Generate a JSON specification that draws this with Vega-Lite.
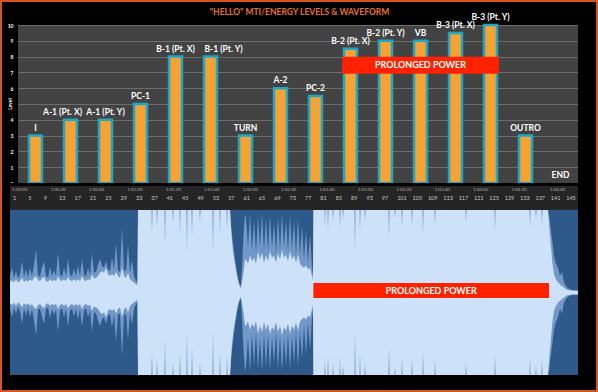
{
  "$schema": "https://vega.github.io/schema/vega-lite/v6.json",
  "background": "#D9541E",
  "padding": 2,
  "columns": 3,
  "spacing": 0,
  "align": "each",
  "bounds": "flush",
  "config": {
    "view": {"stroke": null, "fill": "#000000"},
    "concat": {"spacing": 0},
    "font": "Lato"
  },
  "datasets": {
    "levels": [
      {"section": "I", "level": 3},
      {"section": "A-1 (Pt. X)", "level": 4},
      {"section": "A-1 (Pt. Y)", "level": 4},
      {"section": "PC-1", "level": 5},
      {"section": "B-1 (Pt. X)", "level": 8},
      {"section": "B-1 (Pt. Y)", "level": 8},
      {"section": "TURN", "level": 3},
      {"section": "A-2", "level": 6},
      {"section": "PC-2", "level": 5.5},
      {"section": "B-2 (Pt. X)", "level": 8.5},
      {"section": "B-2 (Pt. Y)", "level": 9},
      {"section": "VB", "level": 9},
      {"section": "B-3 (Pt. X)", "level": 9.5},
      {"section": "B-3 (Pt. Y)", "level": 10},
      {"section": "OUTRO", "level": 3},
      {"section": "END", "level": 0}
    ],
    "notes": [
      {"from": "B-2 (Pt. X)", "to": "B-3 (Pt. Y)", "mid": "VB", "label": "PROLONGED POWER", "start": 156.9, "end": 279.6, "center": 218.25}
    ],
    "ruler": [
      {"t": 0, "label": "1:00:00", "row": "time"},
      {"t": 20, "label": "1:00:20", "row": "time"},
      {"t": 40, "label": "1:00:40", "row": "time"},
      {"t": 60, "label": "1:01:00", "row": "time"},
      {"t": 80, "label": "1:01:20", "row": "time"},
      {"t": 100, "label": "1:01:40", "row": "time"},
      {"t": 120, "label": "1:02:00", "row": "time"},
      {"t": 140, "label": "1:02:20", "row": "time"},
      {"t": 160, "label": "1:02:40", "row": "time"},
      {"t": 180, "label": "1:03:00", "row": "time"},
      {"t": 200, "label": "1:03:20", "row": "time"},
      {"t": 220, "label": "1:03:40", "row": "time"},
      {"t": 240, "label": "1:04:00", "row": "time"},
      {"t": 260, "label": "1:04:20", "row": "time"},
      {"t": 280, "label": "1:04:40", "row": "time"},
      {"t": 0, "label": "1", "row": "bar"},
      {"t": 8, "label": "5", "row": "bar"},
      {"t": 16, "label": "9", "row": "bar"},
      {"t": 24, "label": "13", "row": "bar"},
      {"t": 32, "label": "17", "row": "bar"},
      {"t": 40, "label": "21", "row": "bar"},
      {"t": 48, "label": "25", "row": "bar"},
      {"t": 56, "label": "29", "row": "bar"},
      {"t": 64, "label": "33", "row": "bar"},
      {"t": 72, "label": "37", "row": "bar"},
      {"t": 80, "label": "41", "row": "bar"},
      {"t": 88, "label": "45", "row": "bar"},
      {"t": 96, "label": "49", "row": "bar"},
      {"t": 104, "label": "53", "row": "bar"},
      {"t": 112, "label": "57", "row": "bar"},
      {"t": 120, "label": "61", "row": "bar"},
      {"t": 128, "label": "65", "row": "bar"},
      {"t": 136, "label": "69", "row": "bar"},
      {"t": 144, "label": "73", "row": "bar"},
      {"t": 152, "label": "77", "row": "bar"},
      {"t": 160, "label": "81", "row": "bar"},
      {"t": 168, "label": "85", "row": "bar"},
      {"t": 176, "label": "89", "row": "bar"},
      {"t": 184, "label": "93", "row": "bar"},
      {"t": 192, "label": "97", "row": "bar"},
      {"t": 200, "label": "101", "row": "bar"},
      {"t": 208, "label": "105", "row": "bar"},
      {"t": 216, "label": "109", "row": "bar"},
      {"t": 224, "label": "113", "row": "bar"},
      {"t": 232, "label": "117", "row": "bar"},
      {"t": 240, "label": "121", "row": "bar"},
      {"t": 248, "label": "125", "row": "bar"},
      {"t": 256, "label": "129", "row": "bar"},
      {"t": 264, "label": "133", "row": "bar"},
      {"t": 272, "label": "137", "row": "bar"},
      {"t": 280, "label": "141", "row": "bar"},
      {"t": 288, "label": "145", "row": "bar"}
    ],
    "wave": [
      {"t": -1.04, "p": 0.2, "r": 0.13},
      {"t": 0, "p": 0.3, "r": 0.15},
      {"t": 1.04, "p": 0.18, "r": 0.12},
      {"t": 2.08, "p": 0.26, "r": 0.16},
      {"t": 3.12, "p": 0.17, "r": 0.12},
      {"t": 4.16, "p": 0.22, "r": 0.14},
      {"t": 5.21, "p": 0.38, "r": 0.18},
      {"t": 6.25, "p": 0.19, "r": 0.13},
      {"t": 7.29, "p": 0.28, "r": 0.15},
      {"t": 8.33, "p": 0.18, "r": 0.13},
      {"t": 9.37, "p": 0.3, "r": 0.16},
      {"t": 10.41, "p": 0.2, "r": 0.14},
      {"t": 11.45, "p": 0.33, "r": 0.18},
      {"t": 12.49, "p": 0.52, "r": 0.2},
      {"t": 13.54, "p": 0.21, "r": 0.15},
      {"t": 14.58, "p": 0.19, "r": 0.14},
      {"t": 15.62, "p": 0.3, "r": 0.17},
      {"t": 16.66, "p": 0.38, "r": 0.19},
      {"t": 17.7, "p": 0.2, "r": 0.14},
      {"t": 18.74, "p": 0.18, "r": 0.13},
      {"t": 19.78, "p": 0.31, "r": 0.16},
      {"t": 20.82, "p": 0.2, "r": 0.14},
      {"t": 21.87, "p": 0.27, "r": 0.15},
      {"t": 22.91, "p": 0.2, "r": 0.14},
      {"t": 23.95, "p": 0.48, "r": 0.2},
      {"t": 24.99, "p": 0.22, "r": 0.15},
      {"t": 26.03, "p": 0.19, "r": 0.14},
      {"t": 27.07, "p": 0.3, "r": 0.16},
      {"t": 28.11, "p": 0.2, "r": 0.14},
      {"t": 29.15, "p": 0.41, "r": 0.19},
      {"t": 30.19, "p": 0.22, "r": 0.15},
      {"t": 31.24, "p": 0.19, "r": 0.14},
      {"t": 32.28, "p": 0.29, "r": 0.16},
      {"t": 33.32, "p": 0.2, "r": 0.14},
      {"t": 34.36, "p": 0.32, "r": 0.16},
      {"t": 35.4, "p": 0.2, "r": 0.14},
      {"t": 36.44, "p": 0.41, "r": 0.2},
      {"t": 37.48, "p": 0.22, "r": 0.15},
      {"t": 38.52, "p": 0.19, "r": 0.14},
      {"t": 39.57, "p": 0.3, "r": 0.16},
      {"t": 40.61, "p": 0.21, "r": 0.15},
      {"t": 41.65, "p": 0.48, "r": 0.22},
      {"t": 42.69, "p": 0.24, "r": 0.17},
      {"t": 43.73, "p": 0.25, "r": 0.18},
      {"t": 44.77, "p": 0.34, "r": 0.2},
      {"t": 45.81, "p": 0.41, "r": 0.24},
      {"t": 46.85, "p": 0.32, "r": 0.26},
      {"t": 47.9, "p": 0.3, "r": 0.24},
      {"t": 48.94, "p": 0.38, "r": 0.3},
      {"t": 49.98, "p": 0.28, "r": 0.22},
      {"t": 51.02, "p": 0.26, "r": 0.2},
      {"t": 52.06, "p": 0.42, "r": 0.22},
      {"t": 53.1, "p": 0.27, "r": 0.2},
      {"t": 54.14, "p": 0.6, "r": 0.25},
      {"t": 55.18, "p": 0.27, "r": 0.2},
      {"t": 56.22, "p": 0.25, "r": 0.18},
      {"t": 57.27, "p": 0.78, "r": 0.3},
      {"t": 58.31, "p": 0.28, "r": 0.2},
      {"t": 59.35, "p": 0.26, "r": 0.18},
      {"t": 60.39, "p": 0.58, "r": 0.24},
      {"t": 61.43, "p": 0.24, "r": 0.16},
      {"t": 62.47, "p": 0.39, "r": 0.14},
      {"t": 63.51, "p": 0.2, "r": 0.12},
      {"t": 64.55, "p": 0.14, "r": 0.1},
      {"t": 65.3, "p": 0.12, "r": 0.09},
      {"t": 65.6, "p": 1, "r": 1},
      {"t": 72.58, "p": 1, "r": 1}, {"t": 72.88, "p": 1, "r": 0.72}, {"t": 73.18, "p": 1, "r": 1},
      {"t": 75.19, "p": 1, "r": 1}, {"t": 75.49, "p": 1, "r": 0.8}, {"t": 75.79, "p": 1, "r": 1},
      {"t": 79.35, "p": 1, "r": 1}, {"t": 79.65, "p": 1, "r": 0.56}, {"t": 79.95, "p": 1, "r": 1},
      {"t": 83.52, "p": 1, "r": 1}, {"t": 83.82, "p": 1, "r": 0.85}, {"t": 84.12, "p": 1, "r": 1},
      {"t": 87.16, "p": 1, "r": 1}, {"t": 87.46, "p": 1, "r": 0.72}, {"t": 87.76, "p": 1, "r": 1},
      {"t": 90.8, "p": 1, "r": 1}, {"t": 91.1, "p": 1, "r": 0.48}, {"t": 91.4, "p": 1, "r": 1},
      {"t": 93.41, "p": 1, "r": 1}, {"t": 93.71, "p": 1, "r": 0.66}, {"t": 94.01, "p": 1, "r": 1},
      {"t": 97.57, "p": 1, "r": 1}, {"t": 97.87, "p": 1, "r": 0.85}, {"t": 98.17, "p": 1, "r": 1},
      {"t": 104.34, "p": 1, "r": 1}, {"t": 104.64, "p": 1, "r": 0.46}, {"t": 104.94, "p": 1, "r": 1},
      {"t": 107.98, "p": 1, "r": 1}, {"t": 108.28, "p": 1, "r": 0.72}, {"t": 108.58, "p": 1, "r": 1},
      {"t": 111.63, "p": 1, "r": 1}, {"t": 111.93, "p": 1, "r": 0.76}, {"t": 112.23, "p": 1, "r": 1},
      {"t": 113.49, "p": 1, "r": 1},
      {"t": 114.27, "p": 0.75, "r": 0.7},
      {"t": 115.05, "p": 0.6, "r": 0.5},
      {"t": 116.09, "p": 0.4, "r": 0.35},
      {"t": 117.13, "p": 0.24, "r": 0.2},
      {"t": 118.18, "p": 0.12, "r": 0.1},
      {"t": 119.06, "p": 0.07, "r": 0.05},
      {"t": 119.74, "p": 0.3, "r": 0.12},
      {"t": 120.52, "p": 0.7, "r": 0.25},
      {"t": 121.3, "p": 0.95, "r": 0.4},
      {"t": 121.82, "p": 0.9, "r": 0.4},
      {"t": 122.86, "p": 0.55, "r": 0.35},
      {"t": 123.9, "p": 0.95, "r": 0.45},
      {"t": 124.94, "p": 0.5, "r": 0.38},
      {"t": 125.98, "p": 0.88, "r": 0.42},
      {"t": 127.03, "p": 0.48, "r": 0.35},
      {"t": 128.07, "p": 0.93, "r": 0.5},
      {"t": 129.11, "p": 0.55, "r": 0.4},
      {"t": 130.15, "p": 0.96, "r": 0.48},
      {"t": 131.19, "p": 0.5, "r": 0.36},
      {"t": 132.23, "p": 0.9, "r": 0.45},
      {"t": 133.27, "p": 0.5, "r": 0.38},
      {"t": 134.31, "p": 0.94, "r": 0.5},
      {"t": 135.36, "p": 0.55, "r": 0.42},
      {"t": 136.4, "p": 0.85, "r": 0.45},
      {"t": 137.44, "p": 0.48, "r": 0.36},
      {"t": 138.48, "p": 0.92, "r": 0.48},
      {"t": 139.52, "p": 0.52, "r": 0.4},
      {"t": 140.56, "p": 0.95, "r": 0.52},
      {"t": 141.6, "p": 0.55, "r": 0.42},
      {"t": 142.64, "p": 0.88, "r": 0.46},
      {"t": 143.69, "p": 0.5, "r": 0.38},
      {"t": 144.73, "p": 0.93, "r": 0.5},
      {"t": 145.77, "p": 0.52, "r": 0.4},
      {"t": 146.81, "p": 0.86, "r": 0.45},
      {"t": 147.85, "p": 0.46, "r": 0.36},
      {"t": 148.89, "p": 0.9, "r": 0.46},
      {"t": 149.93, "p": 0.45, "r": 0.35},
      {"t": 150.97, "p": 0.8, "r": 0.32},
      {"t": 152.02, "p": 0.4, "r": 0.3},
      {"t": 153.06, "p": 0.75, "r": 0.33},
      {"t": 154.1, "p": 0.36, "r": 0.28},
      {"t": 155.14, "p": 0.7, "r": 0.3},
      {"t": 156.18, "p": 0.3, "r": 0.2},
      {"t": 156.7, "p": 0.22, "r": 0.15},
      {"t": 156.9, "p": 1, "r": 1},
      {"t": 162.65, "p": 1, "r": 1}, {"t": 162.95, "p": 1, "r": 0.82}, {"t": 163.25, "p": 1, "r": 1},
      {"t": 164.21, "p": 1, "r": 1}, {"t": 164.51, "p": 1, "r": 0.75}, {"t": 164.81, "p": 1, "r": 1},
      {"t": 166.81, "p": 1, "r": 1}, {"t": 167.11, "p": 1, "r": 0.85}, {"t": 167.41, "p": 1, "r": 1},
      {"t": 170.46, "p": 1, "r": 1}, {"t": 170.76, "p": 1, "r": 0.78}, {"t": 171.06, "p": 1, "r": 1},
      {"t": 172.02, "p": 1, "r": 1}, {"t": 172.32, "p": 1, "r": 0.88}, {"t": 172.62, "p": 1, "r": 1},
      {"t": 178.27, "p": 1, "r": 1}, {"t": 178.57, "p": 1, "r": 0.49}, {"t": 178.87, "p": 1, "r": 1},
      {"t": 180.87, "p": 1, "r": 1}, {"t": 181.17, "p": 1, "r": 0.74}, {"t": 181.47, "p": 1, "r": 1},
      {"t": 183.47, "p": 1, "r": 1}, {"t": 183.77, "p": 1, "r": 0.85}, {"t": 184.07, "p": 1, "r": 1},
      {"t": 195.97, "p": 1, "r": 1}, {"t": 196.27, "p": 1, "r": 0.65}, {"t": 196.57, "p": 1, "r": 1},
      {"t": 199.09, "p": 1, "r": 1}, {"t": 199.39, "p": 1, "r": 0.9}, {"t": 199.69, "p": 1, "r": 1},
      {"t": 202.73, "p": 1, "r": 1}, {"t": 203.03, "p": 1, "r": 0.8}, {"t": 203.33, "p": 1, "r": 1},
      {"t": 207.94, "p": 1, "r": 1}, {"t": 208.24, "p": 1, "r": 0.8}, {"t": 208.54, "p": 1, "r": 1},
      {"t": 213.67, "p": 1, "r": 1}, {"t": 213.97, "p": 1, "r": 0.71}, {"t": 214.27, "p": 1, "r": 1},
      {"t": 219.91, "p": 1, "r": 1}, {"t": 220.21, "p": 1, "r": 0.82}, {"t": 220.51, "p": 1, "r": 1},
      {"t": 236.05, "p": 1, "r": 1}, {"t": 236.35, "p": 1, "r": 0.85}, {"t": 236.65, "p": 1, "r": 1},
      {"t": 251.15, "p": 1, "r": 1}, {"t": 251.45, "p": 1, "r": 0.75}, {"t": 251.75, "p": 1, "r": 1},
      {"t": 269.37, "p": 1, "r": 1}, {"t": 269.67, "p": 1, "r": 0.79}, {"t": 269.97, "p": 1, "r": 1},
      {"t": 272.49, "p": 1, "r": 1}, {"t": 272.79, "p": 1, "r": 0.88}, {"t": 273.09, "p": 1, "r": 1},
      {"t": 275.62, "p": 1, "r": 1}, {"t": 275.92, "p": 1, "r": 0.82}, {"t": 276.22, "p": 1, "r": 1},
      {"t": 279.04, "p": 1, "r": 1},
      {"t": 279.82, "p": 0.9, "r": 0.75},
      {"t": 280.6, "p": 0.75, "r": 0.55},
      {"t": 281.38, "p": 0.6, "r": 0.35},
      {"t": 282.16, "p": 0.45, "r": 0.22},
      {"t": 283.2, "p": 0.35, "r": 0.16},
      {"t": 284.24, "p": 0.3, "r": 0.12},
      {"t": 285.29, "p": 0.2, "r": 0.1},
      {"t": 286.33, "p": 0.25, "r": 0.08},
      {"t": 287.37, "p": 0.12, "r": 0.06},
      {"t": 288.41, "p": 0.08, "r": 0.04},
      {"t": 289.45, "p": 0.05, "r": 0.03},
      {"t": 291.53, "p": 0.03, "r": 0.02},
      {"t": 294.66, "p": 0.02, "r": 0.02}
    ]
  },
  "concat": [
    {"width": 16, "height": 23, "view": {"fill": "#000000", "stroke": null}, "data": {"values": [{}]}, "mark": {"type": "text", "text": ""}, "encoding": {}},
    {"width": 560, "height": 23, "view": {"fill": "#000000", "stroke": null}, "data": {"values": [{}]}, "mark": {"type": "text", "text": "\"HELLO\" MTI/ENERGY LEVELS & WAVEFORM", "fontWeight": "bold", "fontSize": 8.5, "color": "#E8731F", "dx": 1.5, "dy": -1.5, "baseline": "middle"}, "encoding": {}},
    {"width": 18, "height": 23, "view": {"fill": "#000000", "stroke": null}, "data": {"values": [{}]}, "mark": {"type": "text", "text": ""}, "encoding": {}},

    {"width": 16, "height": 158, "view": {"fill": "#000000", "stroke": null}, "data": {"values": [{}]}, "mark": {"type": "text", "text": "Level", "angle": 270, "fontSize": 5, "fontWeight": "bold", "color": "#FFFFFF", "baseline": "middle"}, "encoding": {}},
    {
      "width": 560, "height": 158,
      "view": {"fill": "#434343", "stroke": null},
      "layer": [
        {
          "data": {"name": "levels"},
          "transform": [{"filter": "datum.level > 0"}],
          "mark": {"type": "bar", "color": "#F7A334", "stroke": "#1FA7C6", "strokeWidth": 2.5},
          "encoding": {
            "x": {"field": "section", "type": "nominal", "sort": null, "scale": {"domain": ["I", "A-1 (Pt. X)", "A-1 (Pt. Y)", "PC-1", "B-1 (Pt. X)", "B-1 (Pt. Y)", "TURN", "A-2", "PC-2", "B-2 (Pt. X)", "B-2 (Pt. Y)", "VB", "B-3 (Pt. X)", "B-3 (Pt. Y)", "OUTRO", "END"], "paddingInner": 0.63, "paddingOuter": 0.315}, "axis": null},
            "y": {"field": "level", "type": "quantitative", "scale": {"domain": [0, 10], "nice": false}, "axis": {"values": [0, 1, 2, 3, 4, 5, 6, 7, 8, 9, 10], "tickCount": 20, "format": "d", "labelOverlap": false, "labelExpr": "datum.value == 5 ? '' : datum.label", "labelFontSize": 5, "labelFontWeight": "bold", "labelColor": "#FFFFFF", "labelPadding": 5, "ticks": false, "domain": false, "grid": true, "gridColor": "#6E6E6E", "gridWidth": 1, "title": null}}
          }
        },
        {
          "data": {"name": "levels"},
          "transform": [{"filter": "datum.section != 'A-1 (Pt. X)' && datum.section != 'B-1 (Pt. Y)'"}],
          "mark": {"type": "text", "fontWeight": "bold", "fontSize": 8.5, "color": "#FFFFFF", "baseline": "bottom", "dy": -3},
          "encoding": {
            "x": {"field": "section", "type": "nominal", "sort": null, "scale": {"domain": ["I", "A-1 (Pt. X)", "A-1 (Pt. Y)", "PC-1", "B-1 (Pt. X)", "B-1 (Pt. Y)", "TURN", "A-2", "PC-2", "B-2 (Pt. X)", "B-2 (Pt. Y)", "VB", "B-3 (Pt. X)", "B-3 (Pt. Y)", "OUTRO", "END"], "paddingInner": 0.63, "paddingOuter": 0.315}, "axis": null},
            "y": {"field": "level", "type": "quantitative", "scale": {"domain": [0, 10], "nice": false}, "axis": {"values": [0, 1, 2, 3, 4, 5, 6, 7, 8, 9, 10], "tickCount": 20, "format": "d", "labelOverlap": false, "labelExpr": "datum.value == 5 ? '' : datum.label", "labelFontSize": 5, "labelFontWeight": "bold", "labelColor": "#FFFFFF", "labelPadding": 5, "ticks": false, "domain": false, "grid": true, "gridColor": "#6E6E6E", "gridWidth": 1, "title": null}},
            "text": {"field": "section"}
          }
        },
        {
          "data": {"name": "levels"},
          "transform": [{"filter": "datum.section == 'A-1 (Pt. X)'"}],
          "mark": {"type": "text", "fontWeight": "bold", "fontSize": 8.5, "color": "#FFFFFF", "baseline": "bottom", "dy": -3, "dx": -8},
          "encoding": {
            "x": {"field": "section", "type": "nominal", "sort": null, "scale": {"domain": ["I", "A-1 (Pt. X)", "A-1 (Pt. Y)", "PC-1", "B-1 (Pt. X)", "B-1 (Pt. Y)", "TURN", "A-2", "PC-2", "B-2 (Pt. X)", "B-2 (Pt. Y)", "VB", "B-3 (Pt. X)", "B-3 (Pt. Y)", "OUTRO", "END"], "paddingInner": 0.63, "paddingOuter": 0.315}, "axis": null},
            "y": {"field": "level", "type": "quantitative", "scale": {"domain": [0, 10], "nice": false}, "axis": {"values": [0, 1, 2, 3, 4, 5, 6, 7, 8, 9, 10], "tickCount": 20, "format": "d", "labelOverlap": false, "labelExpr": "datum.value == 5 ? '' : datum.label", "labelFontSize": 5, "labelFontWeight": "bold", "labelColor": "#FFFFFF", "labelPadding": 5, "ticks": false, "domain": false, "grid": true, "gridColor": "#6E6E6E", "gridWidth": 1, "title": null}},
            "text": {"field": "section"}
          }
        },
        {
          "data": {"name": "levels"},
          "transform": [{"filter": "datum.section == 'B-1 (Pt. Y)'"}],
          "mark": {"type": "text", "fontWeight": "bold", "fontSize": 8.5, "color": "#FFFFFF", "baseline": "bottom", "dy": -3, "dx": 13},
          "encoding": {
            "x": {"field": "section", "type": "nominal", "sort": null, "scale": {"domain": ["I", "A-1 (Pt. X)", "A-1 (Pt. Y)", "PC-1", "B-1 (Pt. X)", "B-1 (Pt. Y)", "TURN", "A-2", "PC-2", "B-2 (Pt. X)", "B-2 (Pt. Y)", "VB", "B-3 (Pt. X)", "B-3 (Pt. Y)", "OUTRO", "END"], "paddingInner": 0.63, "paddingOuter": 0.315}, "axis": null},
            "y": {"field": "level", "type": "quantitative", "scale": {"domain": [0, 10], "nice": false}, "axis": {"values": [0, 1, 2, 3, 4, 5, 6, 7, 8, 9, 10], "tickCount": 20, "format": "d", "labelOverlap": false, "labelExpr": "datum.value == 5 ? '' : datum.label", "labelFontSize": 5, "labelFontWeight": "bold", "labelColor": "#FFFFFF", "labelPadding": 5, "ticks": false, "domain": false, "grid": true, "gridColor": "#6E6E6E", "gridWidth": 1, "title": null}},
            "text": {"field": "section"}
          }
        },
        {
          "data": {"name": "notes"},
          "mark": {"type": "rule", "color": "#FF2200", "strokeWidth": 17, "strokeCap": "square"},
          "encoding": {
            "x": {"field": "from", "type": "nominal", "sort": null, "scale": {"domain": ["I", "A-1 (Pt. X)", "A-1 (Pt. Y)", "PC-1", "B-1 (Pt. X)", "B-1 (Pt. Y)", "TURN", "A-2", "PC-2", "B-2 (Pt. X)", "B-2 (Pt. Y)", "VB", "B-3 (Pt. X)", "B-3 (Pt. Y)", "OUTRO", "END"], "paddingInner": 0.63, "paddingOuter": 0.315}, "axis": null},
            "x2": {"field": "to"},
            "y": {"datum": 7.45, "type": "quantitative", "scale": {"domain": [0, 10], "nice": false}, "axis": {"values": [0, 1, 2, 3, 4, 5, 6, 7, 8, 9, 10], "tickCount": 20, "format": "d", "labelOverlap": false, "labelExpr": "datum.value == 5 ? '' : datum.label", "labelFontSize": 5, "labelFontWeight": "bold", "labelColor": "#FFFFFF", "labelPadding": 5, "ticks": false, "domain": false, "grid": true, "gridColor": "#6E6E6E", "gridWidth": 1, "title": null}}
          }
        },
        {
          "data": {"name": "notes"},
          "mark": {"type": "text", "fontWeight": "bold", "fontSize": 9, "color": "#FFFFFF", "baseline": "middle"},
          "encoding": {
            "x": {"field": "mid", "type": "nominal", "sort": null, "scale": {"domain": ["I", "A-1 (Pt. X)", "A-1 (Pt. Y)", "PC-1", "B-1 (Pt. X)", "B-1 (Pt. Y)", "TURN", "A-2", "PC-2", "B-2 (Pt. X)", "B-2 (Pt. Y)", "VB", "B-3 (Pt. X)", "B-3 (Pt. Y)", "OUTRO", "END"], "paddingInner": 0.63, "paddingOuter": 0.315}, "axis": null},
            "y": {"datum": 7.45, "type": "quantitative", "scale": {"domain": [0, 10], "nice": false}, "axis": {"values": [0, 1, 2, 3, 4, 5, 6, 7, 8, 9, 10], "tickCount": 20, "format": "d", "labelOverlap": false, "labelExpr": "datum.value == 5 ? '' : datum.label", "labelFontSize": 5, "labelFontWeight": "bold", "labelColor": "#FFFFFF", "labelPadding": 5, "ticks": false, "domain": false, "grid": true, "gridColor": "#6E6E6E", "gridWidth": 1, "title": null}},
            "text": {"field": "label"}
          }
        }
      ]
    },
    {"width": 18, "height": 158, "view": {"fill": "#000000", "stroke": null}, "data": {"values": [{}]}, "mark": {"type": "text", "text": ""}, "encoding": {}},

    {"width": 16, "height": 3, "view": {"fill": "#000000", "stroke": null}, "data": {"values": [{}]}, "mark": {"type": "text", "text": ""}, "encoding": {}},
    {"width": 560, "height": 3, "view": {"fill": "#000000", "stroke": null}, "data": {"values": [{}]}, "mark": {"type": "text", "text": ""}, "encoding": {}},
    {"width": 18, "height": 3, "view": {"fill": "#000000", "stroke": null}, "data": {"values": [{}]}, "mark": {"type": "text", "text": ""}, "encoding": {}},

    {"width": 16, "height": 24, "view": {"fill": "#000000", "stroke": null}, "data": {"values": [{}]}, "mark": {"type": "text", "text": ""}, "encoding": {}},
    {
      "width": 560, "height": 24,
      "view": {"fill": "#252525", "stroke": null},
      "layer": [
        {
          "data": {"values": [{}]},
          "mark": {"type": "rect", "color": "#252525"},
          "encoding": {
            "x": {"datum": -1.04, "type": "quantitative", "scale": {"domain": [3.12, 294.66], "nice": false, "zero": false}, "axis": {"orient": "bottom", "offset": -7, "labels": false, "title": null, "grid": false, "domain": true, "domainColor": "#505050", "ticks": true, "tickColor": "#707070", "tickSize": 5, "tickCount": 146}},
            "x2": {"datum": 294.66}
          }
        },
        {
          "data": {"name": "ruler"},
          "transform": [{"filter": "datum.row == 'time'"}],
          "mark": {"type": "text", "align": "left", "baseline": "middle", "fontSize": 4.5, "color": "#A8A8A8"},
          "encoding": {
            "x": {"field": "t", "type": "quantitative", "scale": {"domain": [3.12, 294.66], "nice": false, "zero": false}, "axis": {"orient": "bottom", "offset": -7, "labels": false, "title": null, "grid": false, "domain": true, "domainColor": "#505050", "ticks": true, "tickColor": "#707070", "tickSize": 5, "tickCount": 146}},
            "y": {"field": "row", "type": "nominal", "scale": {"domain": ["time", "bar", "tick"]}, "axis": null},
            "text": {"field": "label"}
          }
        },
        {
          "data": {"name": "ruler"},
          "transform": [{"filter": "datum.row == 'bar'"}],
          "mark": {"type": "text", "align": "left", "baseline": "middle", "fontSize": 5.5, "color": "#C8C8C8", "dx": 1},
          "encoding": {
            "x": {"field": "t", "type": "quantitative", "scale": {"domain": [3.12, 294.66], "nice": false, "zero": false}, "axis": {"orient": "bottom", "offset": -7, "labels": false, "title": null, "grid": false, "domain": true, "domainColor": "#505050", "ticks": true, "tickColor": "#707070", "tickSize": 5, "tickCount": 146}},
            "y": {"field": "row", "type": "nominal", "scale": {"domain": ["time", "bar", "tick"]}, "axis": null},
            "text": {"field": "label"}
          }
        }
      ]
    },
    {"width": 18, "height": 24, "view": {"fill": "#000000", "stroke": null}, "data": {"values": [{}]}, "mark": {"type": "text", "text": ""}, "encoding": {}},

    {"width": 16, "height": 165, "view": {"fill": "#000000", "stroke": null}, "data": {"values": [{}]}, "mark": {"type": "text", "text": ""}, "encoding": {}},
    {
      "width": 560, "height": 165,
      "view": {"fill": "#2D5A8B", "stroke": null},
      "resolve": {"scale": {"y": "independent"}},
      "layer": [
        {
          "data": {"values": [{}]},
          "mark": {"type": "rect", "color": "#2D5A8B"},
          "encoding": {
            "x": {"datum": -1.04, "type": "quantitative", "scale": {"domain": [3.12, 294.66], "nice": false, "zero": false}, "axis": null},
            "x2": {"datum": 294.66},
            "y": {"datum": -1, "type": "quantitative", "scale": {"domain": [-1, 1], "nice": false}, "axis": null},
            "y2": {"datum": 1}
          }
        },
        {
          "data": {"name": "wave"},
          "mark": {"type": "area", "color": "#7298C8", "interpolate": "linear"},
          "encoding": {
            "x": {"field": "t", "type": "quantitative", "scale": {"domain": [3.12, 294.66], "nice": false, "zero": false}, "axis": null},
            "y": {"field": "p", "type": "quantitative", "scale": {"domain": [-1, 1], "nice": false}, "axis": null},
            "y2": {"datum": -0.02}
          }
        },
        {
          "data": {"name": "wave"},
          "mark": {"type": "area", "color": "#7298C8", "interpolate": "linear"},
          "encoding": {
            "x": {"field": "t", "type": "quantitative", "scale": {"domain": [3.12, 294.66], "nice": false, "zero": false}, "axis": null},
            "y": {"field": "p", "type": "quantitative", "scale": {"domain": [-1, 1], "nice": false, "reverse": true}, "axis": null},
            "y2": {"datum": 0}
          }
        },
        {
          "data": {"name": "wave"},
          "mark": {"type": "area", "color": "#CDE2F8", "interpolate": "linear"},
          "encoding": {
            "x": {"field": "t", "type": "quantitative", "scale": {"domain": [3.12, 294.66], "nice": false, "zero": false}, "axis": null},
            "y": {"field": "r", "type": "quantitative", "scale": {"domain": [-1, 1], "nice": false}, "axis": null},
            "y2": {"datum": -0.02}
          }
        },
        {
          "data": {"name": "wave"},
          "mark": {"type": "area", "color": "#CDE2F8", "interpolate": "linear"},
          "encoding": {
            "x": {"field": "t", "type": "quantitative", "scale": {"domain": [3.12, 294.66], "nice": false, "zero": false}, "axis": null},
            "y": {"field": "r", "type": "quantitative", "scale": {"domain": [-1, 1], "nice": false, "reverse": true}, "axis": null},
            "y2": {"datum": 0}
          }
        },
        {
          "data": {"name": "notes"},
          "mark": {"type": "rect", "color": "#FF2200"},
          "encoding": {
            "x": {"field": "start", "type": "quantitative", "scale": {"domain": [3.12, 294.66], "nice": false, "zero": false}, "axis": null},
            "x2": {"field": "end"},
            "y": {"datum": 0.115, "type": "quantitative", "scale": {"domain": [-1, 1], "nice": false}, "axis": null},
            "y2": {"datum": -0.067}
          }
        },
        {
          "data": {"name": "notes"},
          "mark": {"type": "text", "fontWeight": "bold", "fontSize": 9, "color": "#FFFFFF", "baseline": "middle"},
          "encoding": {
            "x": {"field": "center", "type": "quantitative", "scale": {"domain": [3.12, 294.66], "nice": false, "zero": false}, "axis": null},
            "y": {"datum": 0.024, "type": "quantitative", "scale": {"domain": [-1, 1], "nice": false}, "axis": null},
            "text": {"field": "label"}
          }
        }
      ]
    },
    {"width": 18, "height": 165, "view": {"fill": "#000000", "stroke": null}, "data": {"values": [{}]}, "mark": {"type": "text", "text": ""}, "encoding": {}},

    {"width": 16, "height": 15, "view": {"fill": "#000000", "stroke": null}, "data": {"values": [{}]}, "mark": {"type": "text", "text": ""}, "encoding": {}},
    {"width": 560, "height": 15, "view": {"fill": "#000000", "stroke": null}, "data": {"values": [{}]}, "mark": {"type": "text", "text": ""}, "encoding": {}},
    {"width": 18, "height": 15, "view": {"fill": "#000000", "stroke": null}, "data": {"values": [{}]}, "mark": {"type": "text", "text": ""}, "encoding": {}}
  ]
}
